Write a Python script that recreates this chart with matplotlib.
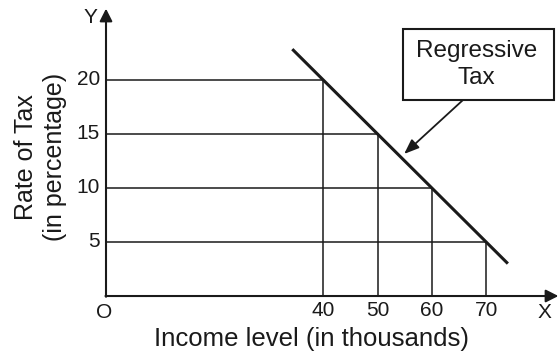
import matplotlib.pyplot as plt
from matplotlib.patches import Rectangle

plt.rcParams['font.family'] = ['Liberation Sans', 'DejaVu Sans']

# data
incomes = [40, 50, 60, 70]          # income level (thousands)
rates = [20, 15, 10, 5]             # rate of tax (%)
line_x = [34.3, 74.0]               # regressive tax line ends
line_y = [22.85, 3.0]
x_ticks = [40, 50, 60, 70]
y_ticks = [5, 10, 15, 20]

ink = '#1a1a1a'

fig = plt.figure(figsize=(5.6, 3.55), dpi=100)
ax = fig.add_axes([0, 0, 1, 1])
ax.set_xlim(-19.52, 83.6)
ax.set_ylim(-5.46, 27.4)
ax.axis('off')

# guide lines
for xi, yi in zip(incomes, rates):
    ax.plot([0, xi], [yi, yi], color=ink, lw=1.1)
    ax.plot([xi, xi], [0, yi], color=ink, lw=1.1)

# regressive tax line
ax.plot(line_x, line_y, color=ink, lw=2.2, solid_capstyle='butt')

# axes with arrows
arrow = dict(arrowstyle='-|>,head_length=0.75,head_width=0.38', color=ink, lw=1.5,
             shrinkA=0, shrinkB=0)
ax.annotate('', xy=(0, 26.6), xytext=(0, -0.07), arrowprops=arrow)
ax.annotate('', xy=(83.3, 0), xytext=(-0.1, 0), arrowprops=arrow)

fs = 15
for t in x_ticks:
    ax.text(t, -1.34, str(t), ha='center', va='center', fontsize=fs, color=ink)
for t in y_ticks:
    ax.text(-1.1, t, str(t), ha='right', va='center', fontsize=fs, color=ink)

ax.text(-0.28, -1.53, 'O', ha='center', va='center', fontsize=fs, color=ink)
ax.text(-2.95, 25.8, 'Y', ha='center', va='center', fontsize=fs, color=ink)
ax.text(80.8, -1.57, 'X', ha='center', va='center', fontsize=fs, color=ink)

ax.text(37.9, -3.98, 'Income level (in thousands)', ha='center', va='center',
        fontsize=18.5, color=ink)
ax.text(-12.1, 12.87, 'Rate of Tax\n(in percentage)', ha='center', va='center',
        rotation=90, fontsize=18, color=ink, linespacing=1.25)

# label box with arrow
ax.add_patch(Rectangle((54.7, 18.15), 27.8, 6.57, facecolor='white',
                       edgecolor=ink, lw=1.5, zorder=3))
ax.text(68.2, 21.4, 'Regressive\nTax', ha='center', va='center', fontsize=17.5,
        color=ink, linespacing=1.3, zorder=4)
ax.annotate('', xy=(54.9, 13.15), xytext=(65.75, 18.15),
            arrowprops=dict(arrowstyle='-|>,head_length=0.9,head_width=0.35',
                            color=ink, lw=1.3, shrinkA=0, shrinkB=0))

fig.savefig('out.png', dpi=100)
